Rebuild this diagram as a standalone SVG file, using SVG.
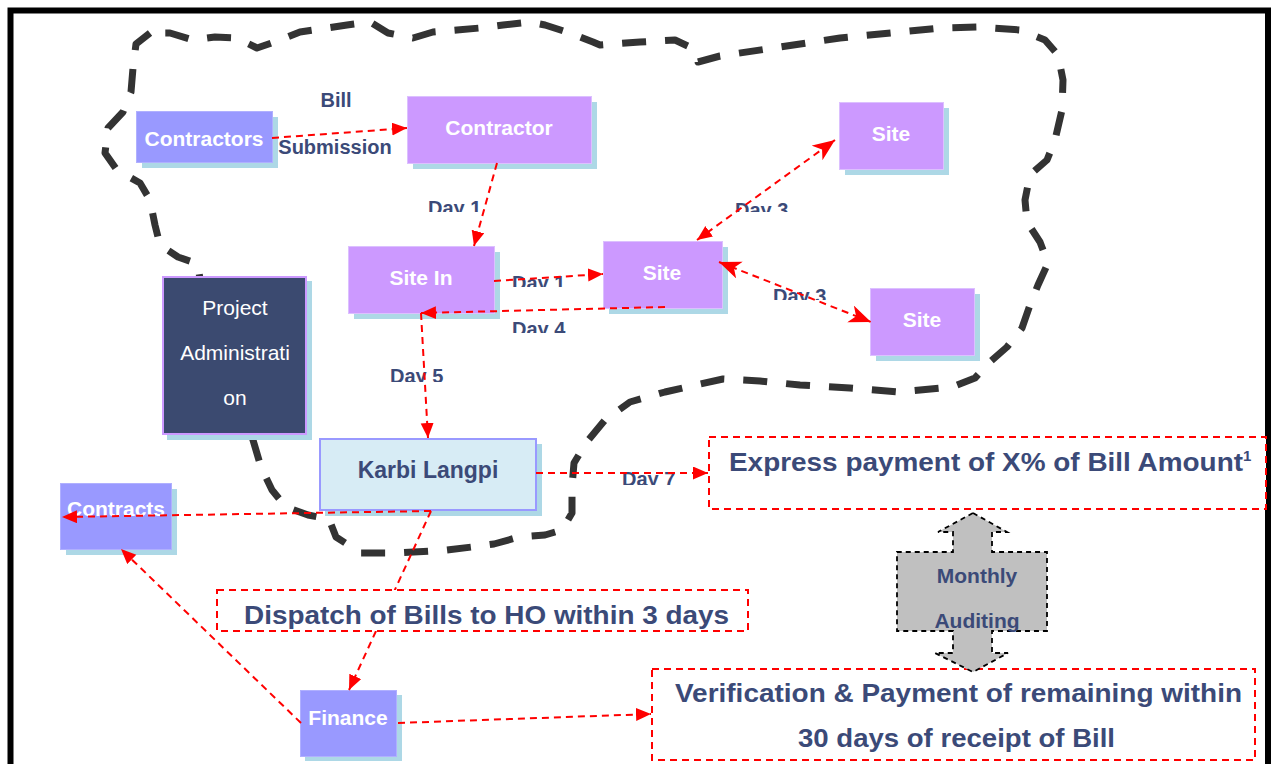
<svg xmlns="http://www.w3.org/2000/svg" width="1271" height="764" viewBox="0 0 1271 764">
  <style>
    .lbl { font-family: "Liberation Sans", Arial, sans-serif; font-weight: bold; fill: #3b4a78; }
    .wt { font-family: "Liberation Sans", Arial, sans-serif; font-weight: bold; fill: #ffffff; font-size: 21px; text-anchor: middle; }
    .shadow { fill: #add8e6; }
    .violet { fill: #cc99ff; stroke: #dcc0ff; stroke-width: 1; }
    .blue { fill: #9999ff; stroke: #b0b0ff; stroke-width: 1; }
    .conn { fill: none; stroke: #ff0000; stroke-width: 2; stroke-dasharray: 7 5; }
    .note { fill: #ffffff; stroke: #ff0000; stroke-width: 2; stroke-dasharray: 7 5; }
  </style>
  <defs>
    <marker id="tri" markerUnits="userSpaceOnUse" markerWidth="16" markerHeight="14" refX="15" refY="6.5" orient="auto-start-reverse">
      <path d="M0,0 L15,6.5 L0,13 Z" fill="#ff0000"/>
    </marker>
    <marker id="stealth" markerUnits="userSpaceOnUse" markerWidth="24" markerHeight="20" refX="22" refY="9" orient="auto-start-reverse">
      <path d="M0,0 L22,9 L0,18 L6,9 Z" fill="#ff0000"/>
    </marker>
    <clipPath id="cDay1a"><rect x="400" y="190" width="100" height="22"/></clipPath>
    <clipPath id="cDay1b"><rect x="500" y="265" width="80" height="22"/></clipPath>
    <clipPath id="cDay4"><rect x="500" y="312" width="80" height="21"/></clipPath>
    <clipPath id="cDay5"><rect x="380" y="358" width="80" height="24"/></clipPath>
    <clipPath id="cDay3a"><rect x="720" y="190" width="90" height="22"/></clipPath>
    <clipPath id="cDay3b"><rect x="760" y="278" width="90" height="22"/></clipPath>
    <clipPath id="cDay7"><rect x="610" y="460" width="90" height="25"/></clipPath>
  </defs>

  <rect width="1271" height="764" fill="#ffffff"/>
  <!-- page frame -->
  <rect x="10.5" y="10.5" width="1257.5" height="800" fill="none" stroke="#000000" stroke-width="6"/>

  <!-- site boundary -->
  <path id="boundary" fill="none" stroke="#333333" stroke-width="7" stroke-dasharray="24 19" stroke-linejoin="round"
        d="M150,33 L136,44 L133,68 L131,92 L123,112 L108,128 L105,153 L117,170 L140,183 L150,200 L155,225 L160,245 L178,257 L198,264 L200,280 L230,360 L253,440 L261,467 L272,490 L286,507 L308,515 L329,519 L336,537 L361,553 L397,553 L447,550 L472,547 L494,544 L519,537 L545,535 L562,530 L572,513 L572,487 L574,463 L586,443 L605,420 L630,402 L665,392 L700,384 L723,379 L760,381 L800,385 L850,388 L900,392 L952,387 L975,378 L990,362 L1007,347 L1022,328 L1030,305 L1038,285 L1048,263 L1040,242 L1027,222 L1025,200 L1030,175 L1047,160 L1055,140 L1062,110 L1063,80 L1058,55 L1045,40 L1020,30 L980,27 L940,28 L900,32 L840,38 L780,47 L720,56 L698,62 L692,48 L675,40 L640,42 L600,45 L593,42 L570,33 L545,25 L530,22 L503,25 L480,28 L457,30 L433,32 L413,38 L388,33 L370,22 L347,25 L327,28 L300,32 L280,40 L257,48 L237,38 L215,37 L193,40 L170,33 Z"/>

  <!-- nodes -->
  <g id="contractors">
    <rect class="shadow" x="142" y="117" width="136" height="51"/>
    <rect class="blue" x="136.5" y="111.5" width="136" height="51"/>
    <text class="wt" x="204" y="146">Contractors</text>
  </g>
  <g id="contractor">
    <rect class="shadow" x="413" y="102" width="184" height="67"/>
    <rect class="violet" x="407.5" y="96.5" width="184" height="67"/>
    <text class="wt" x="499" y="135">Contractor</text>
  </g>
  <g id="site-in">
    <rect class="shadow" x="354" y="252" width="146" height="67"/>
    <rect class="violet" x="348.5" y="246.5" width="146" height="67"/>
    <text class="wt" x="421" y="285">Site In</text>
  </g>
  <g id="site-mid">
    <rect class="shadow" x="609" y="247" width="119" height="67"/>
    <rect class="violet" x="603.5" y="241.5" width="119" height="67"/>
    <text class="wt" x="662" y="280">Site</text>
  </g>
  <g id="site-top">
    <rect class="shadow" x="845" y="108" width="104" height="67"/>
    <rect class="violet" x="839.5" y="102.5" width="104" height="67"/>
    <text class="wt" x="891" y="141">Site</text>
  </g>
  <g id="site-bottom">
    <rect class="shadow" x="876" y="294" width="104" height="67"/>
    <rect class="violet" x="870.5" y="288.5" width="104" height="67"/>
    <text class="wt" x="922" y="327">Site</text>
  </g>
  <g id="project-admin">
    <rect class="shadow" x="167" y="281" width="145" height="159"/>
    <rect x="163" y="277" width="143" height="157" fill="#3b4a70" stroke="#cc99ff" stroke-width="2"/>
    <text class="wt" font-weight="normal" style="font-weight:normal" x="235" y="315">Project</text>
    <text class="wt" style="font-weight:normal" x="235" y="360">Administrati</text>
    <text class="wt" style="font-weight:normal" x="235" y="405">on</text>
  </g>
  <g id="karbi-langpi">
    <rect class="shadow" x="325" y="444" width="217" height="72"/>
    <rect x="320" y="439" width="216" height="71" fill="#d7ecf5" stroke="#9999ff" stroke-width="2"/>
    <text class="lbl" x="428" y="478" font-size="23" text-anchor="middle">Karbi Langpi</text>
  </g>
  <g id="contracts">
    <rect class="shadow" x="66" y="489" width="111" height="66"/>
    <rect class="blue" x="60.5" y="483.5" width="111" height="66"/>
    <text class="wt" x="116" y="516">Contracts</text>
  </g>
  <g id="finance">
    <rect class="shadow" x="305" y="695" width="97" height="66"/>
    <rect class="blue" x="300.5" y="690.5" width="96" height="66"/>
    <text class="wt" x="348" y="725">Finance</text>
  </g>

  <!-- labels -->
  <g id="labels">
    <text class="lbl" x="336" y="107" font-size="20" text-anchor="middle">Bill</text>
    <text class="lbl" x="335" y="154" font-size="20" text-anchor="middle">Submission</text>
    <g clip-path="url(#cDay1a)"><text class="lbl" x="428" y="214.5" font-size="20">Day 1</text></g>
    <g clip-path="url(#cDay1b)"><text class="lbl" x="512" y="289.5" font-size="20">Day 1</text></g>
    <g clip-path="url(#cDay4)"><text class="lbl" x="512" y="336" font-size="20">Day 4</text></g>
    <g clip-path="url(#cDay5)"><text class="lbl" x="390" y="382.5" font-size="20">Day 5</text></g>
    <g clip-path="url(#cDay3a)"><text class="lbl" x="735" y="216.5" font-size="20">Day 3</text></g>
    <g clip-path="url(#cDay3b)"><text class="lbl" x="773" y="302.5" font-size="20">Day 3</text></g>
    <g clip-path="url(#cDay7)"><text class="lbl" x="622" y="485.5" font-size="20">Day 7</text></g>
  </g>

  <!-- connectors -->
  <g id="connectors">
    <path class="conn" d="M272,138 L407,128" marker-end="url(#tri)"/>
    <path class="conn" d="M497,163 L474,246" marker-end="url(#tri)"/>
    <path class="conn" d="M494,281 L603,274" marker-end="url(#tri)"/>
    <path class="conn" d="M665,307 L421,313" marker-end="url(#tri)"/>
    <path class="conn" d="M421,313 L428,438" marker-end="url(#tri)"/>
    <path class="conn" d="M697,240 L835,140" marker-start="url(#tri)" marker-end="url(#stealth)"/>
    <path class="conn" d="M719,262 L871,322" marker-start="url(#stealth)" marker-end="url(#stealth)"/>
    <path class="conn" d="M536,473 L708,473" marker-end="url(#tri)"/>
    <path class="conn" d="M431,511 L62,517" marker-end="url(#tri)"/>
    <path class="conn" d="M431,511 L349,690" marker-end="url(#tri)"/>
    <path class="conn" d="M301,723 L121,549" marker-end="url(#tri)"/>
    <path class="conn" d="M398,723 L651,714" marker-end="url(#tri)"/>
  </g>

  <!-- notes -->
  <g id="express-note">
    <rect class="note" x="709" y="437" width="557" height="72"/>
    <text class="lbl" x="729" y="471" font-size="26.5"><tspan textLength="514" lengthAdjust="spacingAndGlyphs">Express payment of X% of Bill Amount</tspan><tspan font-size="15" dy="-10">1</tspan></text>
  </g>
  <g id="dispatch-note">
    <rect class="note" x="217" y="590" width="531" height="41"/>
    <text class="lbl" x="244" y="624" font-size="26.5" textLength="485" lengthAdjust="spacingAndGlyphs">Dispatch of Bills to HO within 3 days</text>
  </g>
  <g id="verification-note">
    <rect class="note" x="652" y="669" width="603" height="91"/>
    <text class="lbl" x="675" y="702" font-size="26.5" textLength="567" lengthAdjust="spacingAndGlyphs">Verification &amp; Payment of remaining within</text>
    <text class="lbl" x="798" y="747" font-size="26.5" textLength="317" lengthAdjust="spacingAndGlyphs">30 days of receipt of Bill</text>
  </g>

  <!-- monthly auditing double arrow -->
  <g id="monthly-auditing">
    <path d="M973,513 L1007,532 L992,532 L992,552 L1047,552 L1047,631 L992,631 L992,653 L1008,653 L973,672 L935,653 L953,653 L953,631 L897,631 L897,552 L953,552 L953,532 L938,532 Z"
          fill="#c0c0c0" stroke="#000000" stroke-width="1.8" stroke-dasharray="5 4"/>
    <text class="lbl" x="977" y="583" font-size="21" text-anchor="middle">Monthly</text>
    <text class="lbl" x="977" y="628" font-size="21" text-anchor="middle">Auditing</text>
  </g>
</svg>
